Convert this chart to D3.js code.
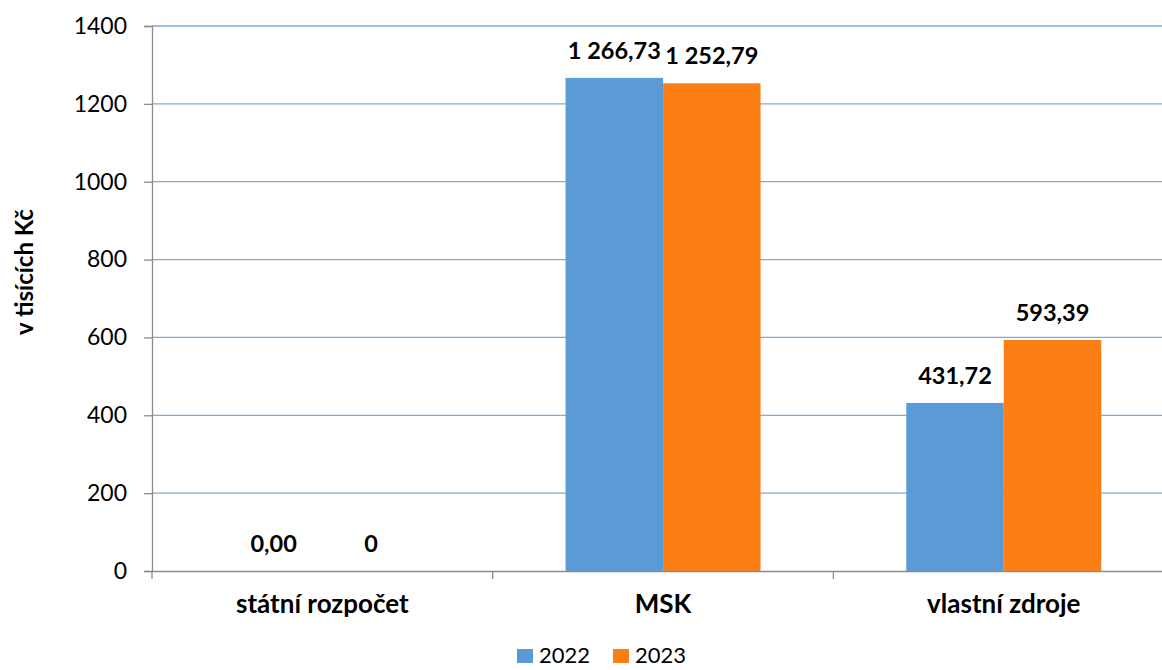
<!DOCTYPE html>
<html><head><meta charset="utf-8">
<script src="https://cdn.jsdelivr.net/npm/d3@7"></script>
<style>
html,body{margin:0;padding:0;background:#fff;overflow:hidden}
svg{display:block}
text{font-family:Lato,"Open Sans",sans-serif;fill:#000}
</style></head>
<body><svg id="c" width="1162" height="670"></svg>
<script>
const categories = ["státní rozpočet", "MSK", "vlastní zdroje"];
const seriesNames = ["2022", "2023"];
const values2022 = [0, 1266.73, 431.72];
const values2023 = [0, 1252.79, 593.39];
const labels2022 = ["0,00", "1 266,73", "431,72"];
const labels2023 = ["0", "1 252,79", "593,39"];
const yTicks = [0, 200, 400, 600, 800, 1000, 1200, 1400];
const colors = ["#5b9bd5", "#fc7f15"];

(function () {
const svg = d3.select("#c");
const plotLeft = 152, bandW = 340.7, plotTop = 26, plotBottom = 571;
const x = d3.scaleBand().domain(categories).range([plotLeft, plotLeft + bandW * 3]).paddingInner(0).paddingOuter(0);
const y = d3.scaleLinear().domain([0, 1400]).range([plotBottom, plotTop]);
const groupW = 195;
const x1 = d3.scaleBand().domain(seriesNames).range([0, groupW]).padding(0);

// gridlines
svg.append("g").selectAll("line").data(yTicks.filter(t => t > 0)).join("line")
  .attr("x1", plotLeft).attr("x2", 1162).attr("y1", d => y(d)).attr("y2", d => y(d))
  .attr("stroke", "#7eaadb").attr("stroke-width", 1.3);

// y axis
const yAxis = d3.axisLeft(y).tickValues(yTicks).tickSize(8).tickPadding(17).tickFormat(d3.format("d"));
const gy = svg.append("g").attr("transform", `translate(${plotLeft},0)`).call(yAxis);
gy.select(".domain").attr("stroke", "#8c8c8c").attr("stroke-width", 1.3);
gy.selectAll(".tick line").attr("stroke", "#8c8c8c").attr("stroke-width", 1.3);
gy.selectAll(".tick text").style("font-family", "Lato").style("font-size", "23px").attr("fill", "#000");

// bars
const data = categories.map((c, i) => ({c, vals: [values2022[i], values2023[i]], labs: [labels2022[i], labels2023[i]]}));
const groups = svg.append("g").selectAll("g").data(data).join("g")
  .attr("transform", d => `translate(${x(d.c) + (x.bandwidth() - groupW) / 2},0)`);
groups.selectAll("rect").data(d => d.vals.map((v, j) => ({v, s: seriesNames[j], j}))).join("rect")
  .attr("x", d => x1(d.s)).attr("width", x1.bandwidth())
  .attr("y", d => y(d.v)).attr("height", d => y(0) - y(d.v))
  .attr("fill", d => colors[d.j]);
groups.selectAll("text").data(d => d.vals.map((v, j) => ({v, s: seriesNames[j], lab: d.labs[j]}))).join("text")
  .attr("x", d => x1(d.s) + x1.bandwidth() / 2).attr("y", d => y(d.v) - 19)
  .attr("text-anchor", "middle").style("font-size", "23.5px").style("font-weight", "bold")
  .text(d => d.lab);

// x axis
const xAxis = d3.axisBottom(x).tickSize(0).tickPadding(0);
const gx = svg.append("g").attr("transform", `translate(0,${plotBottom})`).call(xAxis);
gx.select(".domain").attr("stroke", "#8c8c8c").attr("stroke-width", 1.3);
gx.selectAll(".tick text").attr("dy", 0).attr("y", 42).style("font-family", "Lato")
  .style("font-size", "26px").style("font-weight", "bold").attr("fill", "#000");
gx.selectAll(".bound").data(d3.range(categories.length + 1)).join("line").attr("class", "bound")
  .attr("x1", i => plotLeft + bandW * i).attr("x2", i => plotLeft + bandW * i)
  .attr("y1", 0).attr("y2", 8).attr("stroke", "#8c8c8c").attr("stroke-width", 1.3);

// y title
svg.append("text").attr("transform", "translate(33,272) rotate(-90)")
  .attr("text-anchor", "middle").style("font-size", "24px").style("font-weight", "bold")
  .text("v tisících Kč");

// legend
const lg = svg.append("g").selectAll("g").data(seriesNames).join("g")
  .attr("transform", (d, i) => `translate(${517 + i * 96},649)`);
lg.append("rect").attr("width", 16).attr("height", 14).attr("fill", (d, i) => colors[i]);
lg.append("text").attr("x", 22).attr("y", 14).style("font-size", "22px").text(d => d);
})();
</script></body></html>
